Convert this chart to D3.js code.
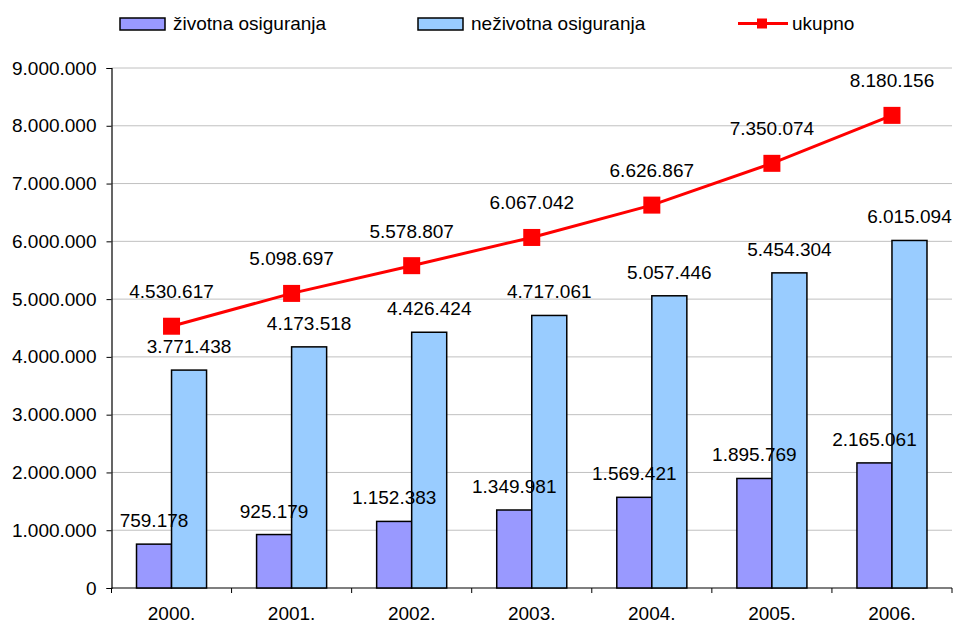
<!DOCTYPE html>
<html>
<head>
<meta charset="utf-8">
<script src="https://cdn.jsdelivr.net/npm/d3@7"></script>
<style>
  body { margin: 0; background: #fff; }
  svg { display: block; font-family: "Liberation Sans", Arial, sans-serif; }
</style>
</head>
<body>
<svg id="chart" width="953" height="625"></svg>
<script>

// Data

var years = ["2000.", "2001.", "2002.", "2003.", "2004.", "2005.", "2006."];
var zivotna = [759178, 925179, 1152383, 1349981, 1569421, 1895769, 2165061];
var nezivotna = [3771438, 4173518, 4426424, 4717061, 5057446, 5454304, 6015094];
var ukupno = [4530617, 5098697, 5578807, 6067042, 6626867, 7350074, 8180156];
var yTicks = [0, 1000000, 2000000, 3000000, 4000000, 5000000, 6000000, 7000000, 8000000, 9000000];

var seriesNames = ["životna osiguranja", "neživotna osiguranja", "ukupno"];
var colors = ["#9999ff", "#99ccff", "#ff0000"];

// Layout (plot area edges)

var plotL = 111.5, plotR = 952, plotT = 68, plotB = 588,
    fontSize = "19px";

var svg = d3.select("#chart");

var locale = d3.formatLocale({ decimal: ",", thousands: ".", grouping: [3], currency: ["", ""] });
var fmt = locale.format(",d");

var x = d3.scaleBand()
  .domain(years)
  .range([plotL, plotR]);

var x1 = d3.scaleBand()
  .domain([0, 1])
  .range([0, x.bandwidth()])
  .paddingOuter(0.714);

var y = d3.scaleLinear()
  .domain([0, 9000000])
  .range([plotB, plotT]);

// Gridlines

svg.append("g")
  .selectAll("line")
  .data(yTicks.slice(1))
  .enter().append("line")
  .attr("x1", plotL).attr("x2", plotR)
  .attr("y1", function(d) { return y(d); })
  .attr("y2", function(d) { return y(d); })
  .attr("stroke", "#c0c0c0")
  .attr("stroke-width", 1);

// Axes

var yAxis = svg.append("g")
  .attr("transform", "translate(" + plotL + ",0)")
  .call(d3.axisLeft(y).tickValues(yTicks).tickFormat(fmt).tickSize(5).tickPadding(10));

var xAxis = svg.append("g")
  .attr("transform", "translate(0," + plotB + ")")
  .call(d3.axisBottom(x).tickSize(0).tickPadding(19));

// x ticks sit between categories
svg.append("g")
  .selectAll("line")
  .data(d3.range(years.length + 1))
  .enter().append("line")
  .attr("x1", function(i) { return plotL + i * x.bandwidth(); })
  .attr("x2", function(i) { return plotL + i * x.bandwidth(); })
  .attr("y1", plotB).attr("y2", plotB + 5)
  .attr("stroke", "#000");

[yAxis, xAxis].forEach(function(a) {
  a.select(".domain").attr("stroke", "#000").attr("stroke-width", 1.2);
  a.selectAll("text").style("font-size", fontSize).attr("fill", "#000")
    .style("font-family", "'Liberation Sans', Arial, sans-serif");
});
yAxis.selectAll(".tick line").attr("stroke", "#000");
xAxis.select(".domain").attr("d", "M" + plotL + ",0H" + plotR);

// Bars first, then all their labels on top

var barSeries = [zivotna, nezivotna];

barSeries.forEach(function(values, idx) {
  svg.append("g")
    .selectAll("rect")
    .data(values)
    .enter().append("rect")
    .attr("x", function(d, i) { return x(years[i]) + x1(idx); })
    .attr("y", function(d) { return y(d); })
    .attr("width", x1.bandwidth())
    .attr("height", function(d) { return plotB - y(d); })
    .attr("fill", colors[idx])
    .attr("stroke", "#000")
    .attr("stroke-width", 1.5);
});

barSeries.forEach(function(values, idx) {
  svg.append("g")
    .selectAll("text")
    .data(values)
    .enter().append("text")
    .attr("x", function(d, i) { return x(years[i]) + x1(idx) + x1.bandwidth() / 2; })
    .attr("y", function(d) { return y(d) - 17; })
    .attr("text-anchor", "middle")
    .style("font-size", fontSize)
    .text(fmt);
});

// Total line

var cx = function(d, i) { return x(years[i]) + x.bandwidth() / 2; };

svg.append("path")
  .datum(ukupno)
  .attr("fill", "none")
  .attr("stroke", colors[2])
  .attr("stroke-width", 3)
  .attr("d", d3.line().x(cx).y(function(d) { return y(d); }));

svg.append("g")
  .selectAll("rect")
  .data(ukupno)
  .enter().append("rect")
  .attr("x", function(d, i) { return cx(d, i) - 8.5; })
  .attr("y", function(d) { return y(d) - 8.5; })
  .attr("width", 17).attr("height", 17)
  .attr("fill", colors[2]);

svg.append("g")
  .selectAll("text")
  .data(ukupno)
  .enter().append("text")
  .attr("x", cx)
  .attr("y", function(d) { return y(d) - 28; })
  .attr("text-anchor", "middle")
  .style("font-size", fontSize)
  .text(fmt);

// Legend

var legendX = [120, 418, 738];

var legend = svg.append("g")
  .selectAll("g")
  .data(seriesNames)
  .enter().append("g")
  .attr("transform", function(d, i) { return "translate(" + legendX[i] + ",0)"; });

legend.filter(function(d, i) { return i < 2; })
  .append("rect")
  .attr("x", 0).attr("y", 18)
  .attr("width", 45).attr("height", 12)
  .attr("fill", function(d, i) { return colors[i]; })
  .attr("stroke", "#000")
  .attr("stroke-width", 1.5);

var lineLegend = legend.filter(function(d, i) { return i === 2; });
lineLegend.append("line")
  .attr("x1", 0).attr("x2", 50).attr("y1", 23.5).attr("y2", 23.5)
  .attr("stroke", colors[2]).attr("stroke-width", 3);
lineLegend.append("rect")
  .attr("x", 19).attr("y", 18.5).attr("width", 10).attr("height", 10)
  .attr("fill", colors[2]);

legend.append("text")
  .attr("x", function(d, i) { return i < 2 ? 53 : 54; })
  .attr("y", 30)
  .style("font-size", fontSize)
  .text(function(d) { return d; });

</script>
</body>
</html>
